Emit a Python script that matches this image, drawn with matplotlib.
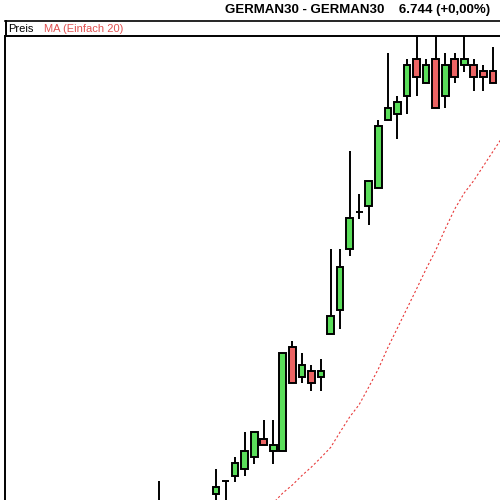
import matplotlib.pyplot as plt
from matplotlib.lines import Line2D

# candle index, OHLC (only the part of the chart that is in view)
days = [0, 6, 7, 8, 9, 10, 11, 12, 13, 14, 15, 16, 17, 18, 19, 20, 21,
        22, 23, 24, 25, 26, 27, 28, 29, 30, 31, 32, 33, 34, 35]
opens = [5886, 5922, 5948, 5958, 5972, 5996, 6032, 6008, 6008, 6216, 6156,
         6168, 6156, 6242, 6290, 6412, 6486, 6498, 6534, 6670, 6682, 6718,
         6792, 6744, 6792, 6718, 6792, 6780, 6780, 6768, 6768]
highs = [5948, 5972, 5948, 5996, 6046, 6046, 6070, 6070, 6204, 6228, 6204,
         6180, 6192, 6412, 6412, 6608, 6522, 6548, 6670, 6804, 6718, 6792,
         6860, 6792, 6860, 6804, 6804, 6860, 6792, 6780, 6816]
lows = [5870, 5904, 5886, 5946, 5958, 5982, 6020, 5982, 6008, 6144, 6144,
        6128, 6128, 6242, 6252, 6398, 6472, 6460, 6534, 6670, 6632, 6682,
        6718, 6744, 6694, 6694, 6744, 6766, 6728, 6728, 6744]
closes = [5900, 5936, 5948, 5984, 6008, 6046, 6020, 6020, 6204, 6144, 6180,
          6144, 6168, 6278, 6376, 6474, 6486, 6548, 6658, 6694, 6706, 6780,
          6756, 6780, 6694, 6780, 6756, 6792, 6756, 6756, 6744]

# moving average (simple, 20)
ma_days = list(range(11, 37))
ma_vals = [5890, 5904, 5924, 5940, 5959, 5976, 5995, 6015, 6046, 6076, 6101,
           6136, 6172, 6215, 6254, 6293, 6332, 6372, 6409, 6452, 6492, 6524,
           6549, 6578, 6607, 6636]

green = '#5ade5a'
red = '#ec6464'

fig = plt.figure(figsize=(5, 5), dpi=100)
ax = fig.add_axes([5 / 500, 0, 495 / 500, 464 / 500])

ax.plot(ma_days, ma_vals, color='#e83c3c', lw=0.8, dashes=(2, 2), zorder=1)

for d, o, h, l, c in zip(days, opens, highs, lows, closes):
    ax.vlines(d, l, h, color='black', lw=1.4, zorder=2)
    col = green if c >= o else red
    ax.bar(d, abs(c - o), bottom=min(o, c), width=0.7, color=col,
           edgecolor='black', linewidth=1.4, zorder=3)

ax.set_xlim(-16.09, 35.74)
ax.set_ylim(5910, 6838)
ax.set_xticks([])
ax.set_yticks([])
for s in ['right', 'bottom']:
    ax.spines[s].set_visible(False)
for s in ['left', 'top']:
    ax.spines[s].set_linewidth(1.4)

# legend strip above the plot
fig.add_artist(Line2D([5 / 500, 1], [1 - 20.5 / 500, 1 - 20.5 / 500],
                      color='black', lw=1.2))
fig.add_artist(Line2D([5.5 / 500, 5.5 / 500], [1 - 20.5 / 500, 1 - 36 / 500],
                      color='black', lw=1.4))
fig.text(8 / 500, 1 - 28.5 / 500, 'Preis', fontsize=8, va='center',
         color='black', family='Liberation Sans')
fig.text(44 / 500, 1 - 28.5 / 500, 'MA (Einfach 20)', fontsize=8,
         va='center', color='#e05050', family='Liberation Sans')

fig.text(490 / 500, 1 - 9.5 / 500, 'GERMAN30 - GERMAN30    6.744 (+0,00%)',
         fontsize=9.5, fontweight='bold', ha='right', va='center',
         family='Liberation Sans')

fig.savefig('out.png', dpi=100)
